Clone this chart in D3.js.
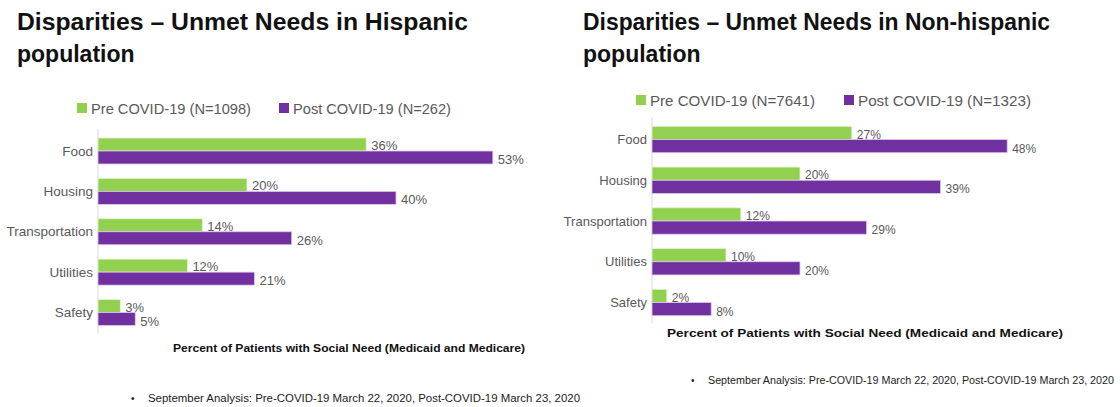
<!doctype html>
<html>
<head>
  <style>
    body { margin: 0; background: #fff; }
    text { font-family: "Liberation Sans", Arial, sans-serif; }
  </style>
  <script src="https://cdn.jsdelivr.net/npm/d3@7"></script>
</head>
<body>
<script>
  var categories = ["Food", "Housing", "Transportation", "Utilities", "Safety"];
  var hispPre = [36, 20, 14, 12, 3];
  var hispPost = [53, 40, 26, 21, 5];
  var nonHispPre = [27, 20, 12, 10, 2];
  var nonHispPost = [48, 39, 29, 20, 8];
  var hispLegend = ["Pre COVID-19 (N=1098)", "Post COVID-19 (N=262)"];
  var nonHispLegend = ["Pre COVID-19 (N=7641)", "Post COVID-19 (N=1323)"];
  var hispTitle = ["Disparities \u2013 Unmet Needs in Hispanic", "population"];
  var nonHispTitle = ["Disparities \u2013 Unmet Needs in Non-hispanic", "population"];
  var axisTitle = "Percent of Patients with Social Need (Medicaid and Medicare)";
  var footnote = "September Analysis: Pre-COVID-19 March 22, 2020, Post-COVID-19 March 23, 2020";

  var green = "#92d050", purple = "#7030a0", grey = "#595959";

  var svg = d3.select("body").append("svg")
    .attr("width", 1120)
    .attr("height", 407);

  function panel(o) {
    var g = svg.append("g");

    // title, two lines
    g.append("text")
      .attr("x", o.titleX).attr("y", 30)
      .attr("font-size", 23).attr("font-weight", "bold").attr("fill", "#111")
      .attr("textLength", o.titleW).attr("lengthAdjust", "spacingAndGlyphs")
      .text(o.title[0]);
    g.append("text")
      .attr("x", o.titleX).attr("y", 62)
      .attr("font-size", 23).attr("font-weight", "bold").attr("fill", "#111")
      .text(o.title[1]);

    var x = d3.scaleLinear().domain([0, 60]).range([o.x0, o.x0 + 60 * o.pxPer]);
    var y = d3.scalePoint().domain(categories).range(o.yRange);

    // legend
    var lg = g.append("g");
    [green, purple].forEach(function(c, i) {
      lg.append("rect")
        .attr("x", o.legX[i]).attr("y", o.legY - 5)
        .attr("width", 10).attr("height", 10)
        .attr("fill", c);
      lg.append("text")
        .attr("x", o.legX[i] + 14).attr("y", o.legY + 5.5)
        .attr("font-size", o.legFont).attr("fill", grey)
        .attr("textLength", o.legW[i]).attr("lengthAdjust", "spacingAndGlyphs")
        .text(o.legend[i]);
    });

    // vertical axis line
    g.append("line")
      .attr("x1", x(0)).attr("x2", x(0))
      .attr("y1", o.yRange[0] - 22).attr("y2", o.yRange[1] + 21)
      .attr("stroke", "#d9d9d9");

    var rows = categories.map(function(c, i) {
      return { cat: c, pre: o.pre[i], post: o.post[i] };
    });

    var bh = o.barH;
    g.selectAll(".pre").data(rows).enter().append("rect")
      .attr("x", x(0))
      .attr("y", function(d) { return y(d.cat) - bh; })
      .attr("width", function(d) { return x(d.pre) - x(0); })
      .attr("height", bh)
      .attr("fill", green).attr("stroke", "#e6f2d6").attr("stroke-width", 0.8);

    g.selectAll(".post").data(rows).enter().append("rect")
      .attr("x", x(0))
      .attr("y", function(d) { return y(d.cat); })
      .attr("width", function(d) { return x(d.post) - x(0); })
      .attr("height", bh)
      .attr("fill", purple).attr("stroke", "#dccbe8").attr("stroke-width", 0.8);

    g.selectAll(".lpre").data(rows).enter().append("text")
      .attr("x", function(d) { return x(d.pre) + 5; })
      .attr("y", function(d) { return y(d.cat) - 1; })
      .attr("font-size", o.valFont).attr("fill", grey)
      .text(function(d) { return d.pre + "%"; });

    g.selectAll(".lpost").data(rows).enter().append("text")
      .attr("x", function(d) { return x(d.post) + 5; })
      .attr("y", function(d) { return y(d.cat) + bh; })
      .attr("font-size", o.valFont).attr("fill", grey)
      .text(function(d) { return d.post + "%"; });

    g.selectAll(".cat").data(categories).enter().append("text")
      .attr("x", x(0) - 5)
      .attr("y", function(d) { return y(d) + 4.5; })
      .attr("text-anchor", "end")
      .attr("font-size", o.catFont).attr("fill", grey)
      .text(function(d) { return d; });

    g.append("text")
      .attr("x", o.axX).attr("y", o.axY)
      .attr("font-size", 11).attr("font-weight", "bold").attr("fill", "#111")
      .attr("textLength", o.axW).attr("lengthAdjust", "spacingAndGlyphs")
      .text(axisTitle);

    g.append("text")
      .attr("x", o.fnX).attr("y", o.fnY)
      .attr("font-size", 10).attr("fill", "#222")
      .text("\u2022");
    g.append("text")
      .attr("x", o.fnX + 17).attr("y", o.fnY)
      .attr("font-size", 10).attr("fill", "#222")
      .attr("textLength", o.fnW).attr("lengthAdjust", "spacingAndGlyphs")
      .text(footnote);
  }

  panel({
    title: hispTitle, titleX: 17, titleW: 451,
    legend: hispLegend, legX: [77, 279], legY: 108, legW: [160, 158], legFont: 14.5,
    pre: hispPre, post: hispPost,
    x0: 98, pxPer: 7.45, yRange: [151, 312.5], barH: 13,
    valFont: 13, catFont: 13.5,
    axX: 173, axY: 352, axW: 352,
    fnX: 131, fnY: 402, fnW: 432
  });

  panel({
    title: nonHispTitle, titleX: 583, titleW: 467,
    legend: nonHispLegend, legX: [636, 844], legY: 100, legW: [165, 173], legFont: 14.5,
    pre: nonHispPre, post: nonHispPost,
    x0: 652, pxPer: 7.4, yRange: [139.5, 302.5], barH: 13.2,
    valFont: 12, catFont: 13,
    axX: 667, axY: 337, axW: 396,
    fnX: 691, fnY: 384, fnW: 406
  });
</script>
</body>
</html>
